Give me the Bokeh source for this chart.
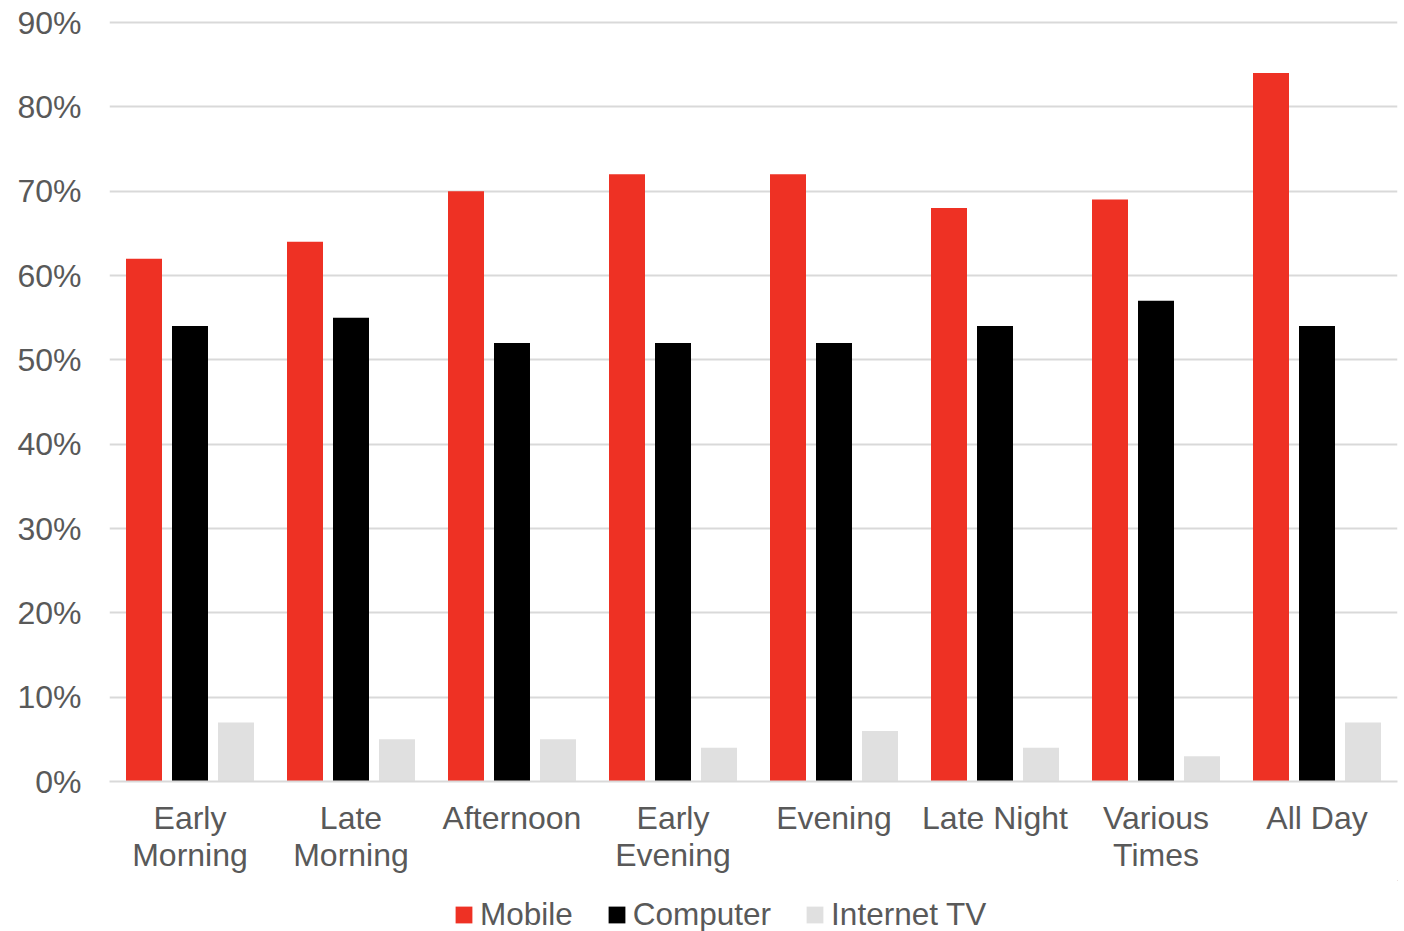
from bokeh.plotting import figure
from bokeh.models import (ColumnDataSource, FactorRange, Range1d, FixedTicker,
                          PrintfTickFormatter, Legend, LegendItem)
from bokeh.layouts import column
from bokeh.transform import dodge
from bokeh.embed import file_html
from bokeh.resources import INLINE

categories = ["Early\nMorning", "Late\nMorning", "Afternoon", "Early\nEvening",
              "Evening", "Late Night", "Various\nTimes", "All Day"]
mobile = [62, 64, 70, 72, 72, 68, 69, 84]
computer = [54, 55, 52, 52, 52, 54, 57, 54]
internet_tv = [7, 5, 5, 4, 6, 4, 3, 7]
y_ticks = [0, 10, 20, 30, 40, 50, 60, 70, 80, 90]

series_names = ["Mobile", "Computer", "Internet TV"]
colors = ["#EE3124", "#000000", "#E0E0E0"]
offsets = [-0.2857, 0.0, 0.2857]

source = ColumnDataSource(dict(cat=categories, Mobile=mobile, Computer=computer,
                               InternetTV=internet_tv))
fields = ["Mobile", "Computer", "InternetTV"]

FONT = "Liberation Sans"
TXT = "#595959"

p = figure(width=1404, height=880, x_range=FactorRange(*categories),
           y_range=Range1d(0, 90.24), output_backend="svg", toolbar_location=None,
           min_border_left=109, min_border_right=7, min_border_top=20,
           min_border_bottom=99)
p.outline_line_color = None
p.background_fill_color = "white"

for name, field, col, off in zip(series_names, fields, colors, offsets):
    p.vbar(x=dodge("cat", off, range=p.x_range), top=field, width=0.2236,
           source=source, fill_color=col, line_color=None)

p.xgrid.grid_line_color = None
p.ygrid.grid_line_color = "#D9D9D9"
p.ygrid.grid_line_width = 2
p.ygrid.ticker = FixedTicker(ticks=y_ticks)

p.yaxis.ticker = FixedTicker(ticks=y_ticks)
p.yaxis.formatter = PrintfTickFormatter(format="%d%%")
p.yaxis.axis_line_color = None
p.yaxis.major_tick_line_color = None
p.yaxis.minor_tick_line_color = None
p.yaxis.major_tick_out = 0
p.yaxis.major_tick_in = 0
p.yaxis.major_label_standoff = 28
p.yaxis.major_label_text_font = FONT
p.yaxis.major_label_text_font_size = "32px"
p.yaxis.major_label_text_color = TXT

p.xaxis.axis_line_color = "#D9D9D9"
p.xaxis.axis_line_width = 2
p.xaxis.major_tick_line_color = None
p.xaxis.major_tick_out = 0
p.xaxis.major_tick_in = 0
p.xaxis.major_label_standoff = 18
p.xaxis.major_label_text_font = FONT
p.xaxis.major_label_text_font_size = "32px"
p.xaxis.major_label_text_color = TXT
p.xaxis.major_label_text_line_height = 1.05

# legend strip below the chart (its frame is aligned with the chart frame)
lf = figure(width=1404, height=51, x_range=Range1d(0, 1), y_range=Range1d(0, 1),
            output_backend="svg", toolbar_location=None,
            min_border_left=0, min_border_right=0, min_border_top=0, min_border_bottom=0)
lf.axis.visible = False
lf.grid.visible = False
lf.outline_line_color = None
swatches = []
for col in colors:
    swatches.append(lf.vbar(x=[5], top=[5], bottom=[4], width=0.1,
                            fill_color=col, line_color=None))

legend = Legend(items=[LegendItem(label=n, renderers=[r]) for n, r in zip(series_names, swatches)],
                orientation="horizontal", location=(344, -2),
                label_text_font=FONT, label_text_font_size="31.5px",
                label_text_color=TXT, glyph_width=21, glyph_height=21,
                label_standoff=6, spacing=33, border_line_color=None,
                background_fill_alpha=0, padding=0, margin=0)
lf.add_layout(legend, "center")

layout = column(p, lf, spacing=0)
open("out.html", "w").write(file_html(layout, INLINE))
